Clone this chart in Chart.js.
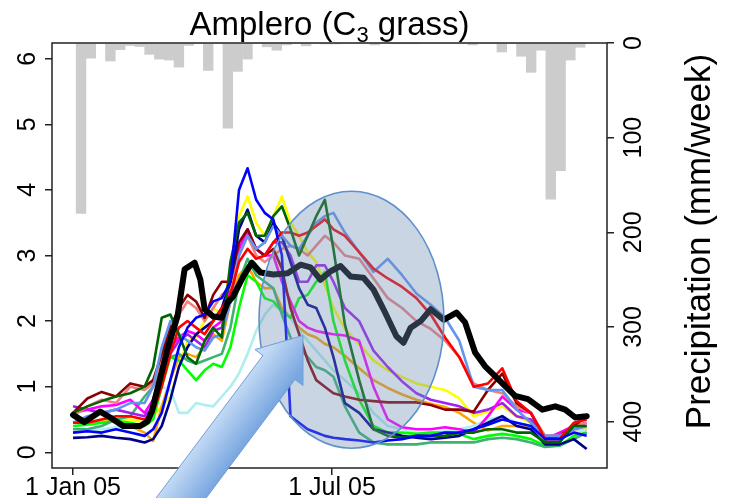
<!DOCTYPE html>
<html><head><meta charset="utf-8">
<script src="https://cdn.jsdelivr.net/npm/chart.js@4.4.0/dist/chart.umd.min.js"></script>
<style>html,body{margin:0;padding:0;background:#fff;}#wrap{width:730px;height:498px;}</style>
</head><body><div id="wrap"><canvas id="c" width="730" height="498"></canvas></div>
<script>
// ---------- text ----------
const titleMain = 'Amplero (C';
const titleSub = '3';
const titleEnd = ' grass)';
const rightAxisTitle = 'Precipitation (mm/week)';
// ---------- ticks ----------
const xTickDays = [0, 181];
const xTickLabels = ['1 Jan 05', '1 Jul 05'];
const yTicks = [0, 1, 2, 3, 4, 5, 6];
const precipTicks = [0, 100, 200, 300, 400];
// ---------- weekly precipitation (mm/week), day of year of bar centre ----------
const precipDays = [5.6,12.4,19.3,26.1,33.0,39.8,46.6,53.5,60.3,67.2,74.0,80.8,87.7,94.5,101.4,108.2,115.0,121.9,128.7,135.6,142.4,149.2,156.1,162.9,169.8,176.6,183.4,190.3,197.1,204.0,210.8,217.6,224.5,231.3,238.2,245.0,251.8,258.7,265.5,272.4,279.2,286.0,292.9,299.7,306.6,313.4,320.2,327.1,333.9,340.8,347.6,354.4];
const precipMM = [180,16,0,19,7,2.6,3.7,12,17,18,25.5,2.6,0,29,0,90,30,17,0,4,7.6,2,0,3,0,1,1,0,0,0,2,0,0.5,0.5,0.5,0,0,0,0,0,2,0,0,9.5,0,14,31,7.6,165,135,18,4.5];
// ---------- observed (thick black) ----------
const obsDays = [0,8,19,26,35,47,52,55,59,66,73,78,85,89,92,98,104,108,112,119,125,131,140,150,159,166,173,180,187,194,203,210,217,226,231,236,243,250,259,268,274,281,288,295,302,309,318,328,337,344,351,359];
const obsVals = [0.57,0.46,0.62,0.53,0.40,0.40,0.47,0.62,0.96,1.57,2.07,2.79,2.89,2.63,2.18,2.07,2.05,2.28,2.38,2.68,2.89,2.74,2.71,2.73,2.86,2.82,2.63,2.76,2.84,2.68,2.66,2.48,2.18,1.77,1.67,1.90,2.00,2.18,2.02,2.13,1.98,1.52,1.31,1.16,1.01,0.86,0.81,0.65,0.70,0.65,0.53,0.55];
// ---------- models (shared day grid) ----------
const modelDays = [0,10,20,30,40,50,56,62,68,74,80,86,92,98,104,110,116,122,128,134,140,146,152,158,164,170,176,182,190,200,210,220,230,240,250,260,270,280,290,300,310,320,330,340,350,359];
const blueVals = [0.3,0.32,0.3,0.35,0.3,0.25,0.35,0.6,1.1,1.6,1.9,2.05,2.1,2.3,2.35,2.6,4.0,4.33,3.85,3.65,3.55,3.0,0.55,0.45,0.35,0.3,0.25,0.22,0.2,0.18,0.15,0.18,0.2,0.25,0.25,0.3,0.3,0.35,0.42,0.5,0.45,0.4,0.2,0.2,0.3,0.25];
const navyVals = [0.22,0.23,0.25,0.22,0.2,0.15,0.2,0.4,0.8,1.3,1.6,1.8,1.9,2.0,2.2,2.6,3.4,3.7,3.3,3.2,3.5,3.3,2.9,2.5,2.25,2.2,1.9,1.45,0.75,0.6,0.35,0.3,0.25,0.22,0.2,0.22,0.25,0.35,0.45,0.55,0.4,0.35,0.12,0.12,0.2,0.05];
const yellowVals = [0.45,0.45,0.5,0.5,0.5,0.45,0.55,0.7,0.85,1.3,1.7,1.75,2.0,2.2,2.1,2.8,3.6,3.9,3.5,3.3,3.6,3.9,3.5,3.3,3.05,2.9,2.55,2.2,1.88,1.65,1.4,1.25,1.15,1.05,1.0,0.95,0.82,0.55,0.62,0.7,0.55,0.45,0.2,0.28,0.35,0.35];
const darkgreenVals = [0.6,0.7,0.78,0.85,0.9,1.0,1.3,2.05,2.1,1.8,1.45,1.35,1.7,1.9,1.75,2.9,3.5,3.65,3.3,3.3,3.6,3.75,3.4,3.0,3.3,3.6,3.85,3.1,1.95,1.1,0.35,0.25,0.22,0.25,0.25,0.25,0.3,0.3,0.35,0.35,0.3,0.3,0.15,0.15,0.4,0.4];
const darkredVals = [0.6,0.82,0.92,0.85,1.05,1.0,1.1,1.5,1.9,2.2,2.4,2.3,2.05,2.4,2.6,2.6,3.2,3.4,3.1,3.0,3.1,2.8,2.2,1.8,1.4,1.1,1.0,0.9,0.85,0.8,0.78,0.76,0.76,0.76,0.72,0.65,0.65,0.62,0.95,1.2,0.75,0.6,0.2,0.25,0.4,0.55];
const redVals = [0.45,0.45,0.5,0.55,0.55,0.5,0.6,1.0,1.5,1.9,2.0,1.9,1.8,2.0,2.2,2.4,2.9,3.1,2.95,3.0,3.2,3.35,3.35,3.3,3.35,3.45,3.55,3.4,3.3,3.05,2.8,2.65,2.52,2.35,2.1,1.75,1.45,1.0,1.05,1.28,0.78,0.6,0.2,0.2,0.45,0.5];
const salmonVals = [0.55,0.7,0.8,0.75,1.0,0.95,1.05,1.4,1.8,2.1,2.3,2.2,2.0,2.2,2.4,2.5,3.0,3.3,3.0,2.9,3.0,3.1,3.15,3.1,3.0,3.15,3.3,3.2,3.0,2.95,2.65,2.35,2.2,2.0,1.88,1.7,1.45,1.05,0.95,0.9,0.7,0.6,0.25,0.25,0.4,0.45];
const cornflowerVals = [0.45,0.55,0.6,0.65,0.75,0.75,1.0,1.6,2.0,1.8,1.7,1.6,1.55,1.75,1.8,2.3,3.0,3.3,3.1,3.2,3.45,3.3,3.15,3.1,3.3,3.5,3.6,3.65,3.35,3.05,2.75,2.95,2.7,2.42,2.25,2.05,1.7,1.0,0.95,0.95,0.65,0.45,0.25,0.25,0.35,0.4];
const purpleVals = [0.7,0.65,0.6,0.65,0.6,0.55,0.7,1.1,1.5,1.7,1.8,1.7,1.6,1.85,1.9,2.5,3.1,3.4,3.1,3.0,3.2,3.2,3.0,2.6,2.6,2.85,2.85,2.6,2.2,2.0,1.55,1.3,1.08,0.9,0.8,0.75,0.7,0.6,0.65,0.75,0.55,0.5,0.25,0.25,0.35,0.4];
const orangeVals = [0.45,0.48,0.45,0.5,0.4,0.3,0.17,0.7,1.1,1.45,1.5,1.45,1.6,1.8,1.7,2.3,2.7,2.85,2.6,2.5,2.5,2.2,2.05,1.9,1.8,1.75,1.65,1.6,1.47,1.28,1.1,0.98,0.88,0.8,0.74,0.69,0.6,0.45,0.33,0.4,0.4,0.38,0.2,0.22,0.3,0.35];
const magentaVals = [0.6,0.65,0.7,0.72,0.8,0.6,0.8,1.3,1.6,1.75,1.85,1.8,1.7,1.9,2.0,2.5,3.1,3.35,3.1,3.0,3.0,2.6,2.3,2.0,1.9,1.85,1.82,1.8,1.78,1.7,1.0,0.5,0.38,0.35,0.35,0.38,0.35,0.3,0.55,0.85,0.65,0.6,0.2,0.3,0.4,0.45];
const limeVals = [0.4,0.42,0.45,0.48,0.45,0.4,0.5,1.0,1.45,1.4,1.25,1.1,1.25,1.35,1.3,1.6,2.2,2.7,2.6,2.35,2.3,2.15,2.05,2.35,2.4,2.6,2.75,2.0,1.4,0.8,0.4,0.3,0.3,0.28,0.3,0.3,0.28,0.2,0.25,0.28,0.25,0.2,0.1,0.1,0.25,0.3];
const seagreenVals = [0.35,0.35,0.4,0.5,0.55,0.85,1.0,1.3,1.45,1.5,1.4,1.35,1.4,1.45,1.5,1.9,2.6,2.95,2.7,2.6,2.5,2.1,1.75,1.6,1.45,1.3,1.25,1.15,0.7,0.3,0.15,0.12,0.12,0.12,0.15,0.15,0.15,0.15,0.2,0.22,0.2,0.15,0.08,0.1,0.2,0.3];
const turquoiseVals = [0.3,0.32,0.35,0.38,0.38,0.45,0.65,1.0,0.95,0.6,0.6,0.75,0.72,0.7,0.85,1.0,1.2,1.5,1.85,2.1,2.25,2.15,2.05,1.85,1.7,1.55,1.4,1.25,1.1,0.9,0.6,0.4,0.35,0.3,0.3,0.32,0.35,0.4,0.5,0.55,0.45,0.4,0.2,0.25,0.3,0.35];

const models = [
  ['#FFFF00', yellowVals], ['#FFA500', orangeVals], ['#AFEEEE', turquoiseVals],
  ['#00FF00', limeVals], ['#3CB371', seagreenVals], ['#A020F0', purpleVals],
  ['#FF00FF', magentaVals], ['#F08080', salmonVals], ['#8B0000', darkredVals],
  ['#00008B', navyVals], ['#6495ED', cornflowerVals], ['#FF0000', redVals],
  ['#006400', darkgreenVals], ['#0000FF', blueVals]
];

// annotation shapes (data coordinates)
const ellipseAnno = { day: 194.6, value: 2.02, rDays: 64.6, rValue: 1.96 };
const arrowAnno = { tipDay: 160.7, tipValue: 1.78 };

const FONT = "'Liberation Sans', Arial, Helvetica, sans-serif";
const pts = (xs, ys) => xs.map((d, i) => ({ x: d, y: ys[i] }));

const datasets = [];
datasets.push({ type: 'line', data: pts(obsDays, obsVals), borderColor: '#000', borderWidth: 6,
  pointRadius: 0, tension: 0, borderJoinStyle: 'round', borderCapStyle: 'round', yAxisID: 'y', order: 0 });
models.forEach(([c, v], i) => datasets.push({ type: 'line', data: pts(modelDays, v), borderColor: c,
  borderWidth: 2.6, pointRadius: 0, tension: 0, borderJoinStyle: 'round', yAxisID: 'y', order: 20 - i }));
datasets.push({ type: 'bar', data: pts(precipDays, precipMM), backgroundColor: '#CCCCCC', borderWidth: 0,
  barPercentage: 1, categoryPercentage: 1, yAxisID: 'y2', order: 50 });

const overlay = {
  id: 'overlay',
  afterDatasetsDraw(chart) {
    const { ctx, chartArea: a } = chart;
    ctx.save();
    ctx.strokeStyle = '#222'; ctx.lineWidth = 1.5;
    ctx.strokeRect(a.left, a.top, a.right - a.left, a.bottom - a.top);
    ctx.restore();
  },
  afterDraw(chart) {
    const { ctx, chartArea: a } = chart;
    const xs = chart.scales.x, ys = chart.scales.y;
    // ellipse highlight
    const cx = xs.getPixelForValue(ellipseAnno.day), cy = ys.getPixelForValue(ellipseAnno.value);
    const rx = Math.abs(xs.getPixelForValue(ellipseAnno.day + ellipseAnno.rDays) - cx);
    const ry = Math.abs(ys.getPixelForValue(ellipseAnno.value + ellipseAnno.rValue) - cy);
    ctx.save();
    ctx.beginPath(); ctx.ellipse(cx, cy, rx, ry, 0, 0, Math.PI * 2);
    ctx.fillStyle = 'rgba(112,140,178,0.37)'; ctx.fill();
    ctx.lineWidth = 1.6; ctx.strokeStyle = '#5F90CC'; ctx.stroke();
    ctx.restore();
    // block arrow
    const T = { x: xs.getPixelForValue(arrowAnno.tipDay), y: ys.getPixelForValue(arrowAnno.tipValue) };
    const d = { x: 0.6, y: -0.8 }, n = { x: 0.8, y: 0.6 };
    const headLen = 40, headHalf = 30, shaftHalf = 20, len = 260;
    const B = { x: T.x - headLen * d.x, y: T.y - headLen * d.y };
    const S = { x: B.x - len * d.x, y: B.y - len * d.y };
    const P = (o, k) => [o.x + k * n.x, o.y + k * n.y];
    const poly = [[T.x, T.y], P(B, headHalf), P(B, shaftHalf), P(S, shaftHalf), P(S, -shaftHalf), P(B, -shaftHalf), P(B, -headHalf)];
    ctx.save();
    ctx.beginPath(); poly.forEach((p, i) => i ? ctx.lineTo(p[0], p[1]) : ctx.moveTo(p[0], p[1])); ctx.closePath();
    const g1 = P(B, -shaftHalf), g2 = P(B, shaftHalf);
    const grad = ctx.createLinearGradient(g1[0], g1[1], g2[0], g2[1]);
    grad.addColorStop(0, '#C3DAF5'); grad.addColorStop(1, '#78A6E0');
    ctx.fillStyle = grad; ctx.fill();
    ctx.lineWidth = 1; ctx.strokeStyle = '#6F9DD6'; ctx.stroke();
    ctx.restore();
    // title with subscript
    ctx.save();
    ctx.fillStyle = '#000'; ctx.textBaseline = 'alphabetic'; ctx.textAlign = 'left';
    const big = '33px ' + FONT, small = '22px ' + FONT;
    ctx.font = big; const w1 = ctx.measureText(titleMain).width, w3 = ctx.measureText(titleEnd).width;
    ctx.font = small; const w2 = ctx.measureText(titleSub).width;
    let x0 = (a.left + a.right) / 2 - (w1 + w2 + w3) / 2;
    ctx.font = big; ctx.fillText(titleMain, x0, 35);
    ctx.font = small; ctx.fillText(titleSub, x0 + w1, 42);
    ctx.font = big; ctx.fillText(titleEnd, x0 + w1 + w2, 35);
    ctx.restore();
    // right axis title
    ctx.save();
    ctx.translate(700, (a.top + a.bottom) / 2 - 14); ctx.rotate(-Math.PI / 2);
    ctx.textAlign = 'center'; ctx.textBaseline = 'middle'; ctx.fillStyle = '#000';
    ctx.font = '35px ' + FONT; ctx.fillText(rightAxisTitle, 0, 0);
    ctx.restore();
  }
};

const tickGrid = { display: true, drawOnChartArea: false, drawTicks: true, tickLength: 7, color: '#222', lineWidth: 1.5, offset: false };
new Chart(document.getElementById('c'), {
  data: { datasets },
  options: {
    responsive: false, animation: false, devicePixelRatio: 1,
    layout: { padding: { top: 43, left: 0, right: 0, bottom: 0 } },
    plugins: { legend: { display: false }, tooltip: { enabled: false }, title: { display: false } },
    scales: {
      x: { type: 'linear', min: -14.7, max: 373.2, offset: false,
        afterBuildTicks: s => { s.ticks = xTickDays.map(v => ({ value: v })); },
        ticks: { autoSkip: false, maxRotation: 0, minRotation: 0, padding: -2, color: '#000',
          font: { family: FONT, size: 25 }, callback: v => { const i = xTickDays.indexOf(v); return i < 0 ? '' : xTickLabels[i]; } },
        grid: tickGrid, border: { display: false }, afterFit: s => { s.height = 30; } },
      y: { type: 'linear', position: 'left', min: -0.24, max: 6.24, offset: false,
        afterBuildTicks: s => { s.ticks = yTicks.map(v => ({ value: v })); },
        ticks: { minRotation: 90, maxRotation: 90, crossAlign: 'center', padding: 10, color: '#000',
          font: { family: FONT, size: 25 }, callback: v => String(v) },
        grid: tickGrid, border: { display: false }, afterFit: s => { s.width = 52; } },
      y2: { type: 'linear', position: 'right', reverse: true, min: 0, max: 449, offset: false,
        afterBuildTicks: s => { s.ticks = precipTicks.map(v => ({ value: v })); },
        ticks: { minRotation: 90, maxRotation: 90, crossAlign: 'center', padding: -1, color: '#000',
          font: { family: FONT, size: 25 }, callback: v => String(v) },
        grid: tickGrid, border: { display: false }, afterFit: s => { s.width = 123; } }
    }
  },
  plugins: [overlay]
});
</script></body></html>
